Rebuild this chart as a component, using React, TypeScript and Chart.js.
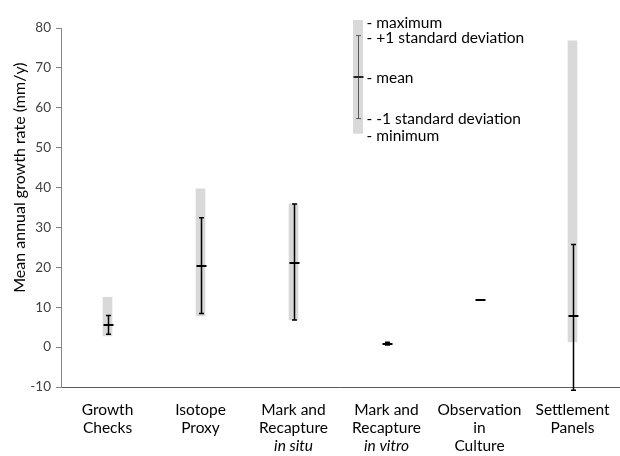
import React, { useEffect, useRef } from "react";
import { Chart, registerables } from "chart.js";

Chart.register(...registerables);

const categoryLines: string[][] = [
  ["Growth", "Checks"],
  ["Isotope", "Proxy"],
  ["Mark and", "Recapture", "in situ"],
  ["Mark and", "Recapture", "in vitro"],
  ["Observation", "in", "Culture"],
  ["Settlement", "Panels"],
];
const italicLastLine = [false, false, true, true, false, false];
const categories = categoryLines.map((l) => l.join(" "));

const minVals = [2.8, 7.8, 6.8, 0.5, 11.8, 1.3];
const maxVals = [12.5, 39.7, 35.9, 1.2, 11.8, 76.8];
const showRange = [true, true, true, false, false, true];
const meanVals = [5.5, 20.4, 21.2, 0.8, 11.8, 7.8];
const sdLow = [3.2, 8.4, 6.8, 0.5, 11.8, -10.8];
const sdHigh = [7.9, 32.4, 35.9, 1.2, 11.8, 25.7];
const showSd = [true, true, true, true, false, true];

const yTicks = [-10, 0, 10, 20, 30, 40, 50, 60, 70, 80];
const yTitle = "Mean annual growth rate (mm/y)";
const yTitleCenterValue = 42.5;

// key (legend) drawn as a sample item
const keyPosition = 2.69;
const keyMin = 53.5;
const keyMax = 82;
const keySdLow = 57.3;
const keySdHigh = 78.1;
const keyMean = 67.6;
const keyLabels = ["- maximum", "- +1 standard deviation", "- mean", "- -1 standard deviation", "- minimum"];
const keyLabelValues = [81.3, 77.4, 67.4, 57.2, 53.0];

const FONT = "Lato, 'Open Sans', sans-serif";

const errorPlugin = {
  id: "errorPlugin",
  afterDatasetsDraw(chart: any) {
    const ctx = chart.ctx;
    const x = chart.scales.x;
    const y = chart.scales.y;
    ctx.save();
    // error bars and means
    for (let i = 0; i < categories.length; i++) {
      const cx = Math.round(x.getPixelForValue(i)) + 0.5;
      if (showSd[i]) {
        const yt = y.getPixelForValue(sdHigh[i]);
        const yb = y.getPixelForValue(sdLow[i]);
        ctx.strokeStyle = "#000";
        ctx.lineWidth = 1.5;
        ctx.beginPath();
        ctx.moveTo(cx, yt);
        ctx.lineTo(cx, yb);
        ctx.moveTo(cx - 2.5, yt);
        ctx.lineTo(cx + 2.5, yt);
        ctx.moveTo(cx - 2.5, yb);
        ctx.lineTo(cx + 2.5, yb);
        ctx.stroke();
      }
      const ym = Math.round(y.getPixelForValue(meanVals[i]));
      ctx.strokeStyle = "#000";
      ctx.lineWidth = 2;
      ctx.beginPath();
      ctx.moveTo(cx - 5, ym);
      ctx.lineTo(cx + 5, ym);
      ctx.stroke();
    }
    // key
    const kx = Math.round(x.getPixelForValue(keyPosition)) + 0.5;
    const kTop = y.getPixelForValue(keyMax);
    const kBot = y.getPixelForValue(keyMin);
    ctx.fillStyle = "#d9d9d9";
    ctx.fillRect(kx - 5.5, kTop, 10, kBot - kTop);
    ctx.strokeStyle = "#595959";
    ctx.lineWidth = 1;
    const st = y.getPixelForValue(keySdHigh);
    const sb = y.getPixelForValue(keySdLow);
    ctx.beginPath();
    ctx.moveTo(kx, st);
    ctx.lineTo(kx, sb);
    ctx.moveTo(kx - 2.5, st);
    ctx.lineTo(kx + 2.5, st);
    ctx.moveTo(kx - 2.5, sb);
    ctx.lineTo(kx + 2.5, sb);
    ctx.stroke();
    const km = Math.round(y.getPixelForValue(keyMean));
    ctx.strokeStyle = "#262626";
    ctx.lineWidth = 2;
    ctx.beginPath();
    ctx.moveTo(kx - 5, km);
    ctx.lineTo(kx + 5, km);
    ctx.stroke();
    ctx.fillStyle = "#000";
    ctx.font = `15.5px ${FONT}`;
    ctx.textAlign = "left";
    ctx.textBaseline = "middle";
    keyLabels.forEach((t, j) => {
      ctx.fillText(t, kx + 8, y.getPixelForValue(keyLabelValues[j]));
    });
    // x category labels
    ctx.fillStyle = "#000";
    ctx.textAlign = "center";
    for (let i = 0; i < categories.length; i++) {
      const cx = x.getPixelForValue(i);
      categoryLines[i].forEach((line, j) => {
        const italic = italicLastLine[i] && j === categoryLines[i].length - 1;
        ctx.font = `${italic ? "italic " : ""}15.5px ${FONT}`;
        ctx.fillText(line, cx, y.bottom + 23 + j * 18);
      });
    }
    // y title
    ctx.save();
    ctx.translate(20, y.getPixelForValue(yTitleCenterValue));
    ctx.rotate(-Math.PI / 2);
    ctx.font = `16px ${FONT}`;
    ctx.textAlign = "center";
    ctx.textBaseline = "middle";
    ctx.fillStyle = "#000";
    ctx.fillText(yTitle, 0, 0);
    ctx.restore();
    ctx.restore();
  },
};

export default function App() {
  const ref = useRef<HTMLCanvasElement | null>(null);
  useEffect(() => {
    document.body.style.margin = "0";
    const canvas = ref.current!;
    const chart = new Chart(canvas, {
      type: "bar",
      data: {
        labels: categories,
        datasets: [
          {
            data: categories.map((_, i) => (showRange[i] ? [minVals[i], maxVals[i]] : null)) as any,
            backgroundColor: "#d9d9d9",
            barThickness: 9,
            borderWidth: 0,
          },
        ],
      },
      options: {
        animation: false,
        responsive: false,
        maintainAspectRatio: false,
        layout: { padding: { top: 28, right: 1, bottom: 0, left: 0 } },
        plugins: { legend: { display: false }, tooltip: { enabled: false } },
        scales: {
          x: {
            offset: true,
            grid: { display: false, drawTicks: false },
            border: { display: true, color: "#595959", width: 1 },
            ticks: { display: false },
            afterFit: (s: any) => {
              s.height = 69;
            },
          },
          y: {
            min: -10,
            max: 80,
            afterBuildTicks: (s: any) => {
              s.ticks = yTicks.map((v) => ({ value: v }));
            },
            grid: { drawOnChartArea: false, drawTicks: true, tickLength: 5, color: "#868686" },
            border: { display: true, color: "#868686", width: 1 },
            ticks: {
              color: "#404040",
              font: { family: FONT, size: 13.5 },
              padding: 5,
            },
            afterFit: (s: any) => {
              s.width = 61;
            },
          },
        },
      },
      plugins: [errorPlugin],
    });
    return () => chart.destroy();
  }, []);
  return <canvas ref={ref} width={620} height={456} style={{ display: "block" }} />;
}
